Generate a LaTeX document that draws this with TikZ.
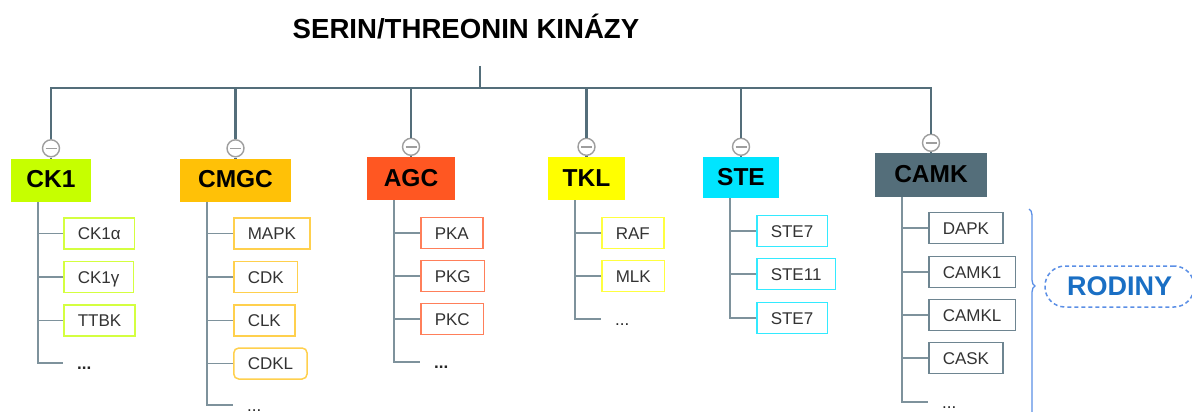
\documentclass[tikz,border=0pt]{standalone}
\usepackage{fontspec}
\setmainfont{Liberation Sans}
\usetikzlibrary{decorations.pathreplacing}

\definecolor{busgray}{HTML}{546E7A}
\definecolor{twiggray}{HTML}{7E929C}
\definecolor{knobgray}{HTML}{9E9E9E}
\definecolor{ckone}{HTML}{C6FF00}
\definecolor{ckonekid}{HTML}{D4FF40}
\definecolor{cmgcfill}{HTML}{FFC107}
\definecolor{cmgckid}{HTML}{FFD04D}
\definecolor{agcfill}{HTML}{FF5722}
\definecolor{agckid}{HTML}{FF7F5A}
\definecolor{tklfill}{HTML}{FFFF00}
\definecolor{tklkid}{HTML}{FFFF40}
\definecolor{stefill}{HTML}{00E5FF}
\definecolor{stekid}{HTML}{33EAFF}
\definecolor{camkfill}{HTML}{546E7A}
\definecolor{camkkid}{HTML}{6E8591}
\definecolor{bracecol}{HTML}{5B8FE6}
\definecolor{rodinytext}{HTML}{1A6FC4}

\begin{document}
\begin{tikzpicture}[x=1pt, y=-1pt,
    bus/.style={draw=busgray, line width=2.8pt},
    twig/.style={draw=twiggray, line width=1.9pt},
    toggle/.style={circle, draw=knobgray, line width=1.4pt, fill=white,
        minimum size=17pt, inner sep=0pt,
        path picture={\draw[knobgray, line width=1.4pt]
            ([xshift=-5.5pt]path picture bounding box.center) --
            ([xshift=5.5pt]path picture bounding box.center);}},
    family/.style={minimum height=43pt, inner sep=0pt, text height=17.5pt,
        text depth=2pt, font=\bfseries\fontsize{24.5}{28}\selectfont},
    kid/.style={draw, line width=1.5pt, fill=white, anchor=west,
        minimum height=31pt, inner xsep=14pt, inner ysep=0pt,
        text height=12.2pt, text depth=0pt, text=black!80,
        font=\fontsize{17}{20}\selectfont},
    more/.style={anchor=west, inner xsep=14pt, inner ysep=0pt,
        text height=12.2pt, text depth=0pt, text=black!85,
        font=\fontsize{17}{20}\selectfont},
    tag/.style={draw=bracecol, dash pattern=on 4pt off 3pt, line width=1.5pt,
        rounded corners=20pt, minimum width=149pt, minimum height=41pt,
        text=rodinytext, font=\bfseries\fontsize{27}{32}\selectfont}]

    % Canvas
    \useasboundingbox (0,0) rectangle (1192,412);
    \clip (0,0) rectangle (1192,412);
    \fill[white] (0,0) rectangle (1192,412);

    % Title
    \node[font=\bfseries\fontsize{27.6}{32}\selectfont] (title) at (466,27) {SERIN/THREONIN KINÁZY};
    \coordinate (root) at (480,66);
    \coordinate (bus) at (480,88);

    % Families
    \node[family, fill=ckone, minimum width=80pt] (ck1) at (51,180) {CK1};
    \node[family, fill=cmgcfill, minimum width=111pt] (cmgc) at (235.5,180) {CMGC};
    \node[family, fill=agcfill, minimum width=88pt] (agc) at (411,178.5) {AGC};
    \node[family, fill=tklfill, minimum width=77pt] (tkl) at (586.5,178.5) {TKL};
    \node[family, fill=stefill, minimum width=76pt, minimum height=41pt] (ste) at (741,177.5) {STE};
    \node[family, fill=camkfill, minimum width=112pt, minimum height=44pt] (camk) at (931,175) {CAMK};

    % Toggles above the families
    \node[toggle] (oCK1) at ([yshift=10pt]ck1.north) {};
    \node[toggle] (oCMGC) at ([yshift=10pt]cmgc.north) {};
    \node[toggle] (oAGC) at ([yshift=10pt]agc.north) {};
    \node[toggle] (oTKL) at ([yshift=10pt]tkl.north) {};
    \node[toggle] (oSTE) at ([yshift=10pt]ste.north) {};
    \node[toggle] (oCAMK) at ([yshift=10pt]camk.north) {};

    % Bus
    \draw[bus] (root) -- (bus);
    \draw[bus] (bus) -| (oCK1.north) (bus) -| (oCMGC.north) (bus) -| (oAGC.north)
        (bus) -| (oTKL.north) (bus) -| (oSTE.north) (bus) -| (oCAMK.north);
    \draw[bus] (oCK1.south) -- (ck1.north) (oCMGC.south) -- (cmgc.north)
        (oAGC.south) -- (agc.north) (oTKL.south) -- (tkl.north)
        (oSTE.south) -- (ste.north) (oCAMK.south) -- (camk.north);

    % CK1
    \coordinate (t1) at ([xshift=27pt]ck1.south west);
    \node[kid, draw=ckonekid] (ck1a) at (63,233.5) {CK1α};
    \node[kid, draw=ckonekid] (ck1g) at (63,277) {CK1γ};
    \node[kid, draw=ckonekid] (ttbk) at (63,320.5) {TTBK};
    \node[more, font=\bfseries\fontsize{17}{20}\selectfont] (ck1x) at (63,363) {...};
    \draw[twig] (t1) |- (ck1a.west) (t1) |- (ck1g.west) (t1) |- (ttbk.west) (t1) |- (ck1x.west);

    % CMGC
    \coordinate (t2) at ([xshift=27pt]cmgc.south west);
    \node[kid, draw=cmgckid] (mapk) at (233,233.5) {MAPK};
    \node[kid, draw=cmgckid] (cdk) at (233,277) {CDK};
    \node[kid, draw=cmgckid] (clk) at (233,320.5) {CLK};
    \node[kid, draw=cmgckid, rounded corners=5pt] (cdkl) at (233,363.5) {CDKL};
    \node[more] (cmgcx) at (233,405) {...};
    \draw[twig] (t2) |- (mapk.west) (t2) |- (cdk.west) (t2) |- (clk.west) (t2) |- (cdkl.west) (t2) |- (cmgcx.west);

    % AGC
    \coordinate (t3) at ([xshift=27pt]agc.south west);
    \node[kid, draw=agckid] (pka) at (420,233) {PKA};
    \node[kid, draw=agckid] (pkg) at (420,276) {PKG};
    \node[kid, draw=agckid] (pkc) at (420,319) {PKC};
    \node[more, font=\bfseries\fontsize{17}{20}\selectfont] (agcx) at (420,362) {...};
    \draw[twig] (t3) |- (pka.west) (t3) |- (pkg.west) (t3) |- (pkc.west) (t3) |- (agcx.west);

    % TKL
    \coordinate (t4) at ([xshift=27pt]tkl.south west);
    \node[kid, draw=tklkid] (raf) at (601,233) {RAF};
    \node[kid, draw=tklkid] (mlk) at (601,276) {MLK};
    \node[more] (tklx) at (601,319) {...};
    \draw[twig] (t4) |- (raf.west) (t4) |- (mlk.west) (t4) |- (tklx.west);

    % STE
    \coordinate (t5) at ([xshift=27pt]ste.south west);
    \node[kid, draw=stekid] (ste7a) at (756,231) {STE7};
    \node[kid, draw=stekid] (ste11) at (756,274) {STE11};
    \node[kid, draw=stekid] (ste7b) at (756,318) {STE7};
    \draw[twig] (t5) |- (ste7a.west) (t5) |- (ste11.west) (t5) |- (ste7b.west);

    % CAMK
    \coordinate (t6) at ([xshift=27pt]camk.south west);
    \node[kid, draw=camkkid] (dapk) at (928,228) {DAPK};
    \node[kid, draw=camkkid] (camkone) at (928,272) {CAMK1};
    \node[kid, draw=camkkid] (camkl) at (928,315) {CAMKL};
    \node[kid, draw=camkkid] (cask) at (928,358) {CASK};
    \node[more] (camkx) at (928,402) {...};
    \draw[twig] (t6) |- (dapk.west) (t6) |- (camkone.west) (t6) |- (camkl.west) (t6) |- (cask.west) (t6) |- (camkx.west);

    % Families tag
    \draw[bracecol, line width=1.3pt, decorate, decoration={brace, amplitude=6pt, aspect=0.365}]
        (1029,209) -- (1029,420);
    \node[tag] (rodiny) at (1119.5,286.5) {RODINY};
\end{tikzpicture}
\end{document}
